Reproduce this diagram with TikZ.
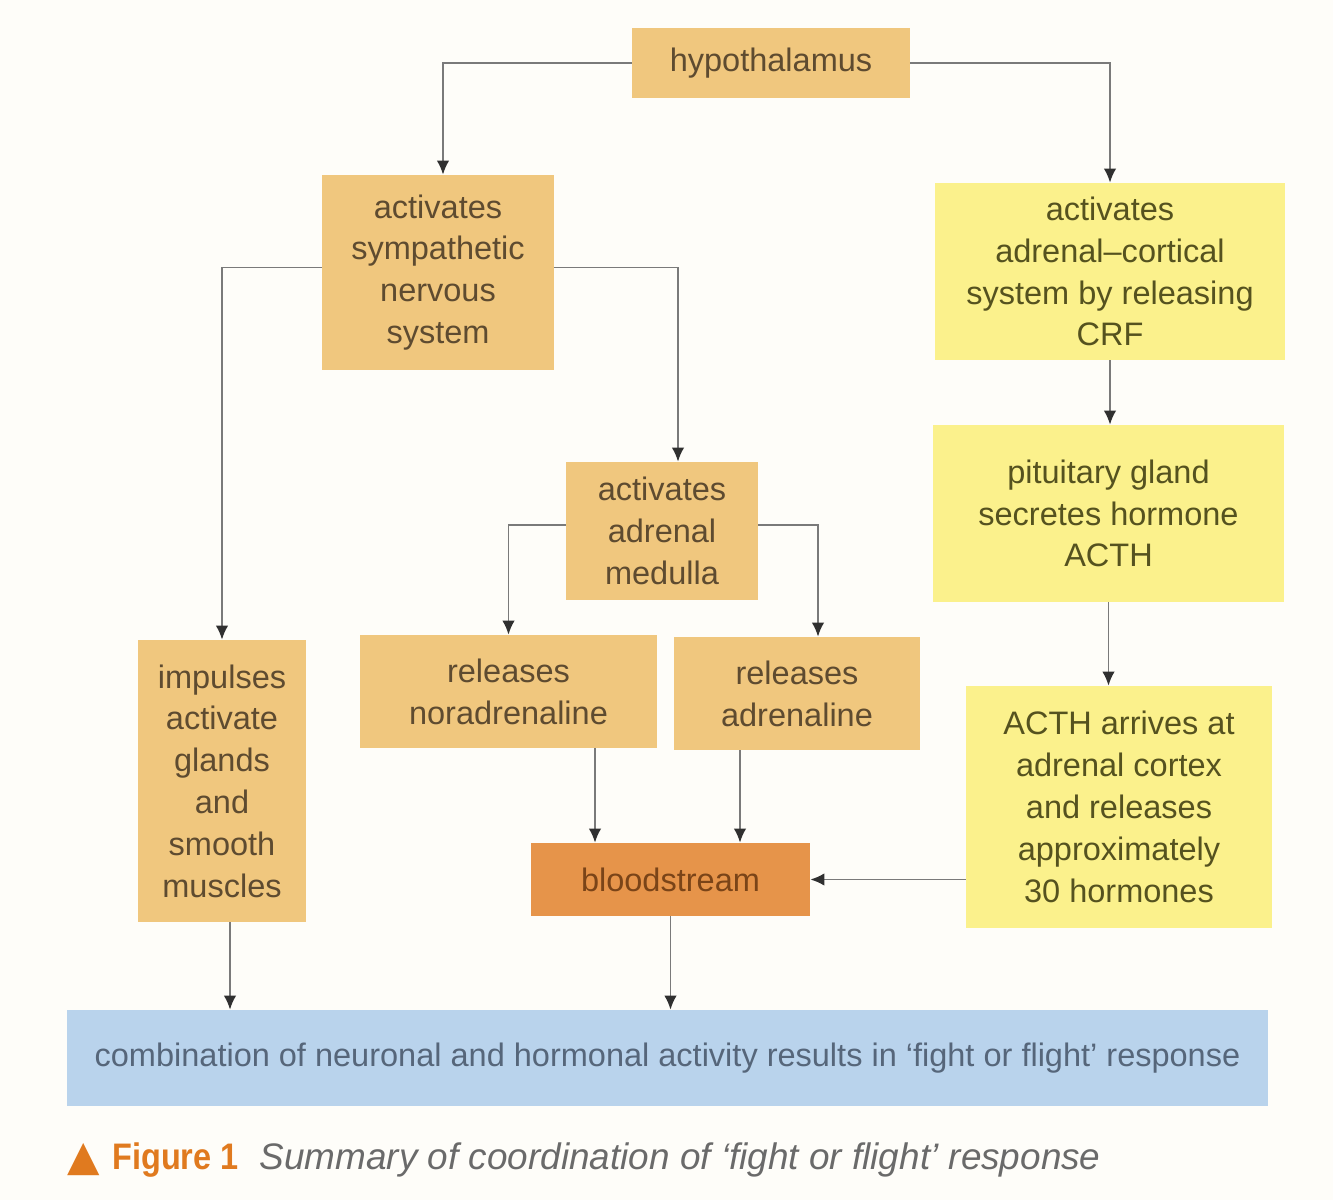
\documentclass[tikz,border=0pt]{standalone}
\usepackage{fontspec}
\setmainfont{Liberation Sans}
\newfontfamily\capfont[FakeStretch=0.88]{Liberation Sans}
\newfontfamily\symfont{DejaVu Sans}
\usetikzlibrary{arrows.meta}

\definecolor{paper}{HTML}{FEFDF9}
\definecolor{sand}{HTML}{F0C77E}
\definecolor{lemon}{HTML}{FBF18C}
\definecolor{blood}{HTML}{E6944A}
\definecolor{sky}{HTML}{B9D3EC}
\definecolor{wire}{HTML}{7A7A7A}
\definecolor{tip}{HTML}{303030}
\definecolor{sandtext}{HTML}{5E4B30}
\definecolor{lemontext}{HTML}{55521F}
\definecolor{skytext}{HTML}{56667A}
\definecolor{bloodtext}{HTML}{7A4418}
\definecolor{figorange}{HTML}{E07A1F}
\definecolor{captext}{HTML}{6A6A6A}

\begin{document}
\begin{tikzpicture}[
    font=\fontsize{18.5}{23.8}\selectfont,
    every node/.style={align=center, inner sep=0pt},
    sandbox/.style={fill=sand, text=sandtext},
    lemonbox/.style={fill=lemon, text=lemontext},
    bloodbox/.style={fill=blood, text=bloodtext},
    skybox/.style={fill=sky, text=skytext},
    arr/.style={draw=wire, line width=1.1pt, -{Latex[length=0.28cm,width=0.25cm,color=tip]}}
  ]
%
         \fill [paper] (0,0) rectangle (26.66,-24);
         \useasboundingbox (0,0) rectangle (26.66,-24);

         \node [sandbox, minimum width=5.56cm, minimum height=1.4cm] (hyp)   at (15.42,-1.26)  {hypothalamus};
         \node [sandbox, minimum width=4.64cm, minimum height=3.9cm] (sym)   at (8.76,-5.45)   {activates\\sympathetic\\nervous\\system};
         \node [lemonbox, minimum width=7.0cm, minimum height=3.54cm] (cort) at (22.2,-5.43)   {activates\\adrenal--cortical\\system by releasing\\CRF};
         \node [sandbox, minimum width=3.84cm, minimum height=2.76cm] (med)  at (13.24,-10.62) {activates\\adrenal\\medulla};
         \node [lemonbox, minimum width=7.02cm, minimum height=3.54cm] (pit) at (22.17,-10.27) {pituitary gland\\secretes hormone\\ACTH};
         \node [sandbox, minimum width=3.36cm, minimum height=5.64cm] (imp)  at (4.44,-15.62)  {impulses\\activate\\glands\\and\\smooth\\muscles};
         \node [sandbox, minimum width=5.94cm, minimum height=2.26cm] (nor)  at (10.17,-13.83) {releases\\noradrenaline};
         \node [sandbox, minimum width=4.92cm, minimum height=2.26cm] (adr)  at (15.94,-13.87) {releases\\adrenaline};
         \node [lemonbox, minimum width=6.12cm, minimum height=4.84cm] (acth) at (22.38,-16.14) {ACTH arrives at\\adrenal cortex\\and releases\\approximately\\30 hormones};
         \node [bloodbox, minimum width=5.58cm, minimum height=1.46cm] (bls) at (13.41,-17.59) {bloodstream};
         \node [skybox, minimum width=24.02cm, minimum height=1.92cm] (comb) at (13.35,-21.16) {combination of neuronal and hormonal activity results in `fight or flight' response};

         \node [anchor=base west, text=figorange] (mark) at (1.34,-23.42) {\symfont\fontsize{24}{26}\selectfont ▲};
         \node [anchor=base west] (cap) at (2.24,-23.4) {\fontsize{21}{24}\selectfont\textcolor{figorange}{\capfont\bfseries Figure 1}\hspace{0.42cm}\textcolor{captext}{\itshape Summary of coordination of `fight or flight' response}};

         \draw [arr] (hyp.west) -| ([xshift=0.1cm]sym.north);
         \draw [arr] (hyp.east) -| (cort.north);
         \draw [arr] ([yshift=0.1cm]sym.west) -| (imp.north);
         \draw [arr] ([yshift=0.1cm]sym.east) -| ([xshift=0.32cm]med.north);
         \draw [arr] ([yshift=0.12cm]med.west) -| (nor.north);
         \draw [arr] ([yshift=0.12cm]med.east) -| ([xshift=0.42cm]adr.north);
         \draw [arr] (cort.south) -- (cort.south |- pit.north);
         \draw [arr] (pit.south) -- (pit.south |- acth.north);
         \draw [arr] ([xshift=1.73cm]nor.south) -- ([xshift=1.73cm]nor.south |- bls.north);
         \draw [arr] ([xshift=-1.14cm]adr.south) -- ([xshift=-1.14cm]adr.south |- bls.north);
         \draw [arr] (acth.west |- bls.east) -- (bls.east);
         \draw [arr] ([xshift=0.16cm]imp.south) -- ([xshift=0.16cm]imp.south |- comb.north);
         \draw [arr] (bls.south) -- (bls.south |- comb.north);

\end{tikzpicture}
\end{document}
